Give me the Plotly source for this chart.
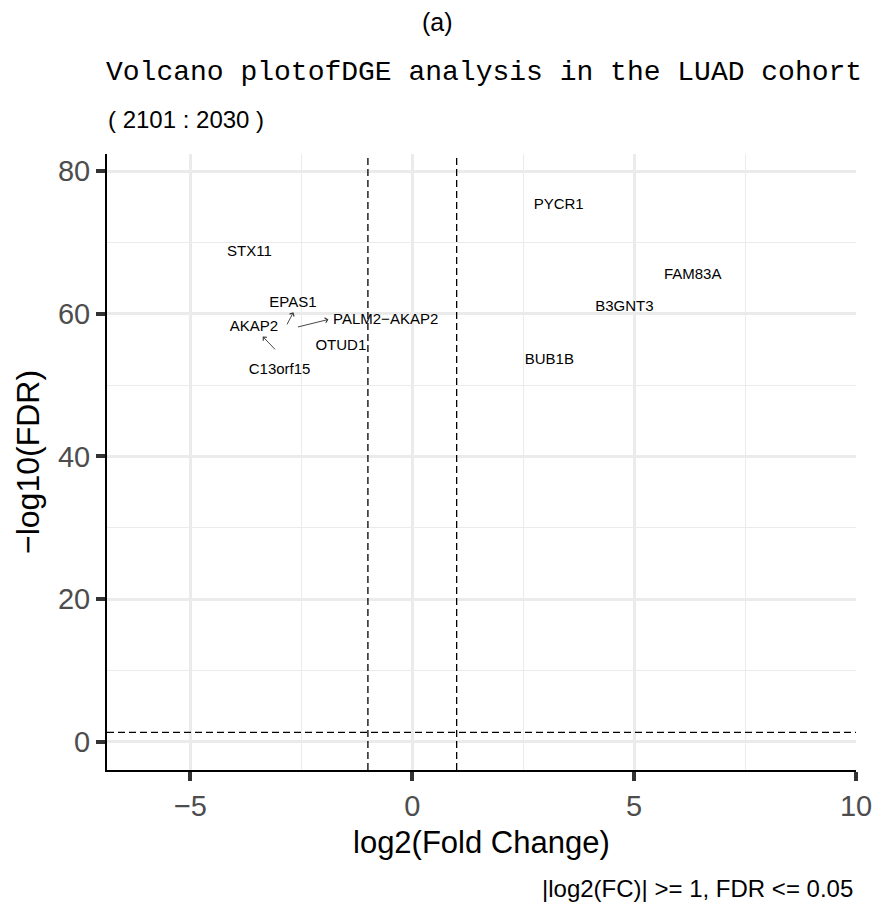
import math
import plotly.graph_objects as go

# ---- data ----
genes = ["PYCR1", "STX11", "FAM83A", "B3GNT3", "EPAS1", "AKAP2",
         "PALM2\u2212AKAP2", "OTUD1", "BUB1B", "C13orf15"]
log2fc = [3.30, -3.67, 6.32, 4.78, -2.69, -3.57, -0.60, -1.61, 3.09, -2.99]
neg_log10_fdr = [75.2, 68.6, 65.4, 60.9, 61.5, 58.1, 59.1, 55.5, 53.5, 52.1]

# repel segments (tail -> head)
seg_x0 = [-2.84, -2.61, -3.06]
seg_y0 = [58.3, 58.1, 54.8]
seg_x1 = [-2.68, -1.89, -3.37]
seg_y1 = [60.2, 59.2, 56.8]

fc_cut = 1
fdr_cut = 0.05
n_up, n_down = 2101, 2030

x_ticks = [-5, 0, 5, 10]
y_ticks = [0, 20, 40, 60, 80]

# ---- geometry ----
W, H = 875, 907
ML, MR, MT, MB = 107, 19, 154, 137
PW = W - ML - MR
PH = H - MT - MB

def py(p):
    return (H - MB - p) / PH

def px(p):
    return (p - ML) / PW

fig = go.Figure()

fig.add_trace(go.Scatter(
    x=log2fc, y=neg_log10_fdr, text=genes, mode="text",
    textposition="middle center",
    textfont=dict(family="Liberation Sans, Arial", size=15, color="black"),
    hoverinfo="text", showlegend=False,
))

annotations = []
for a, b, c, d in zip(seg_x0, seg_y0, seg_x1, seg_y1):
    annotations.append(dict(
        x=c, y=d, ax=a, ay=b, xref="x", yref="y", axref="x", ayref="y",
        text="", showarrow=True, arrowhead=4, arrowsize=1.1,
        arrowwidth=0.9, arrowcolor="#333333", standoff=0, startstandoff=0,
    ))

sans = "Liberation Sans, Arial"
annotations += [
    dict(text="(a)", x=px(437.5), y=py(22), xref="paper", yref="paper",
         xanchor="center", yanchor="middle", showarrow=False,
         font=dict(family=sans, size=25, color="black")),
    dict(text="Volcano plotofDGE analysis in the LUAD cohort", x=px(104), y=py(73),
         xref="paper", yref="paper", xanchor="left", yanchor="middle",
         showarrow=False, font=dict(family="Liberation Mono", size=28, color="black")),
    dict(text=f"( {n_up} : {n_down} )", x=px(106), y=py(120),
         xref="paper", yref="paper", xanchor="left", yanchor="middle",
         showarrow=False, font=dict(family=sans, size=24, color="black")),
    dict(text=f"|log2(FC)| >= {fc_cut}, FDR <= {fdr_cut}", x=px(855), y=py(888),
         xref="paper", yref="paper", xanchor="right", yanchor="middle",
         showarrow=False, font=dict(family=sans, size=24, color="black")),
    dict(text="log2(Fold Change)", x=0.5, y=py(842),
         xref="paper", yref="paper", xanchor="center", yanchor="middle",
         showarrow=False, font=dict(family=sans, size=31, color="black")),
    dict(text="\u2212log10(FDR)", x=px(28), y=0.5, textangle=-90,
         xref="paper", yref="paper", xanchor="center", yanchor="middle",
         showarrow=False, font=dict(family=sans, size=32, color="black")),
]

dash = "7px,4px"
shapes = [
    dict(type="line", xref="x", yref="paper", x0=-fc_cut, x1=-fc_cut, y0=0, y1=1,
         line=dict(color="black", width=1.3, dash=dash)),
    dict(type="line", xref="x", yref="paper", x0=fc_cut, x1=fc_cut, y0=0, y1=1,
         line=dict(color="black", width=1.3, dash=dash)),
    dict(type="line", xref="paper", yref="y", x0=0, x1=1,
         y0=-math.log10(fdr_cut), y1=-math.log10(fdr_cut),
         line=dict(color="black", width=1.3, dash=dash)),
]

axis_common = dict(
    showline=True, linecolor="black", linewidth=2,
    ticks="outside", ticklen=9, tickwidth=3.5, tickcolor="#333333",
    tickfont=dict(family=sans, size=29, color="#4D4D4D"),
    showgrid=True, gridcolor="#EBEBEB", gridwidth=2.8,
    zeroline=False, mirror=False, automargin=False,
)

fig.update_layout(
    width=W, height=H,
    margin=dict(l=ML, r=MR, t=MT, b=MB, pad=0, autoexpand=False),
    paper_bgcolor="white", plot_bgcolor="white",
    annotations=annotations, shapes=shapes,
    xaxis=dict(range=[-6.88, 10.0], tickmode="array", tickvals=x_ticks,
               minor=dict(dtick=2.5, tick0=0, showgrid=True, gridcolor="#EBEBEB",
                          gridwidth=1.4, ticks=""),
               **axis_common),
    yaxis=dict(range=[-3.97, 82.4], tickmode="array", tickvals=y_ticks,
               minor=dict(dtick=10, tick0=0, showgrid=True, gridcolor="#EBEBEB",
                          gridwidth=1.4, ticks=""),
               **axis_common),
    showlegend=False,
)

fig.write_html("out.html")
